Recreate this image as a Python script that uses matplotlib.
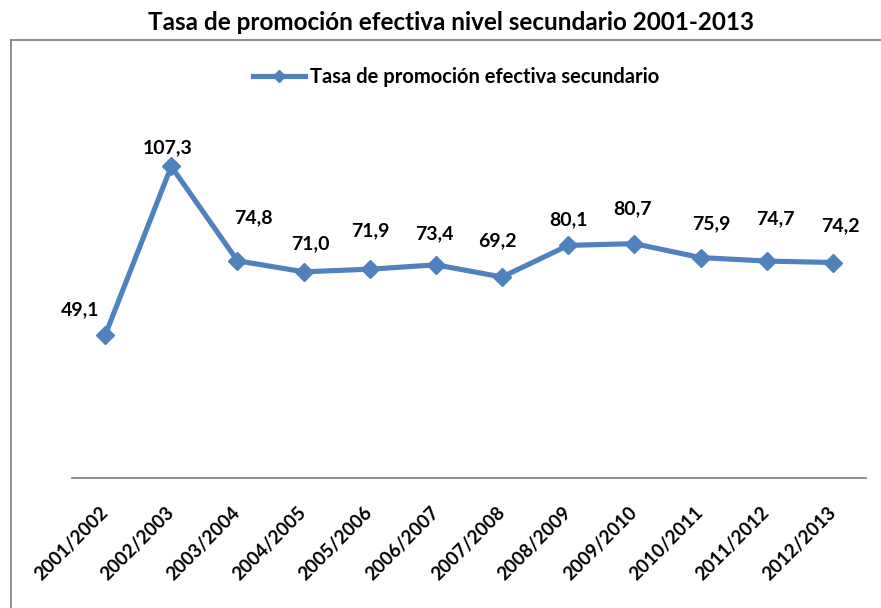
import matplotlib.pyplot as plt
from matplotlib.lines import Line2D

plt.rcParams["font.family"] = ["Lato", "DejaVu Sans"]
plt.rcParams["font.weight"] = "bold"

# data
periodos = ["2001/2002", "2002/2003", "2003/2004", "2004/2005", "2005/2006", "2006/2007",
            "2007/2008", "2008/2009", "2009/2010", "2010/2011", "2011/2012", "2012/2013"]
tasa = [49.1, 107.3, 74.8, 71.0, 71.9, 73.4, 69.2, 80.1, 80.7, 75.9, 74.7, 74.2]

# label offsets in pixels (hand placed like in the original)
offsets = [(-25, 26), (-4, 19), (16, 43), (7, 28), (1, 38), (-2, 31),
           (-5, 36), (0, 26), (-2, 35), (11, 34), (9, 42), (7, 37)]

blue = "#4F81BD"
gray = "#868686"

fig = plt.figure(figsize=(8.81, 6.08), dpi=100)
ax = fig.add_axes([72 / 881, 1 - 478 / 608, 794 / 881, (478 - 129.5) / 608])

x = list(range(len(periodos)))
ax.plot(x, tasa, color=blue, lw=3.7, marker="D", markersize=9.5,
        label="Tasa de promoción efectiva secundario")

for xi, v, (dx, dy) in zip(x, tasa, offsets):
    ax.annotate(f"{v:.1f}".replace(".", ","), (xi, v), xytext=(dx, dy),
                textcoords="offset pixels", ha="center", va="center",
                fontsize=14, fontweight="bold")

ax.set_xlim(-0.5, len(periodos) - 0.5)
ax.set_ylim(0, 120)
ax.set_yticks([])
ax.set_xticks(x)
ax.set_xticklabels(periodos, rotation=45, ha="right", va="center",
                   rotation_mode="anchor", fontsize=13.5, fontweight="bold")
ax.tick_params(axis="x", length=0, pad=23)
for s in ["left", "right", "top"]:
    ax.spines[s].set_visible(False)
ax.spines["bottom"].set_color(gray)
ax.spines["bottom"].set_linewidth(1.3)

leg = ax.legend(loc="center", bbox_to_anchor=(456 / 881, 1 - 77 / 608),
                bbox_transform=fig.transFigure, frameon=False,
                prop={"size": 14.5, "weight": "bold"}, handlelength=2.6,
                markerscale=0.6, handletextpad=0.25)

fig.text(451 / 881, 1 - 23 / 608, "Tasa de promoción efectiva nivel secundario 2001-2013",
         ha="center", va="center", fontsize=17.5, fontweight="bold")

# chart area border (runs off the image to the right and bottom)
fig.add_artist(Line2D([10.5 / 881, 10.5 / 881], [0, 1 - 40 / 608],
                      transform=fig.transFigure, color=gray, lw=1.3))
fig.add_artist(Line2D([10.5 / 881, 1], [1 - 40 / 608, 1 - 40 / 608],
                      transform=fig.transFigure, color=gray, lw=1.3))

plt.savefig("out.png", dpi=100)
